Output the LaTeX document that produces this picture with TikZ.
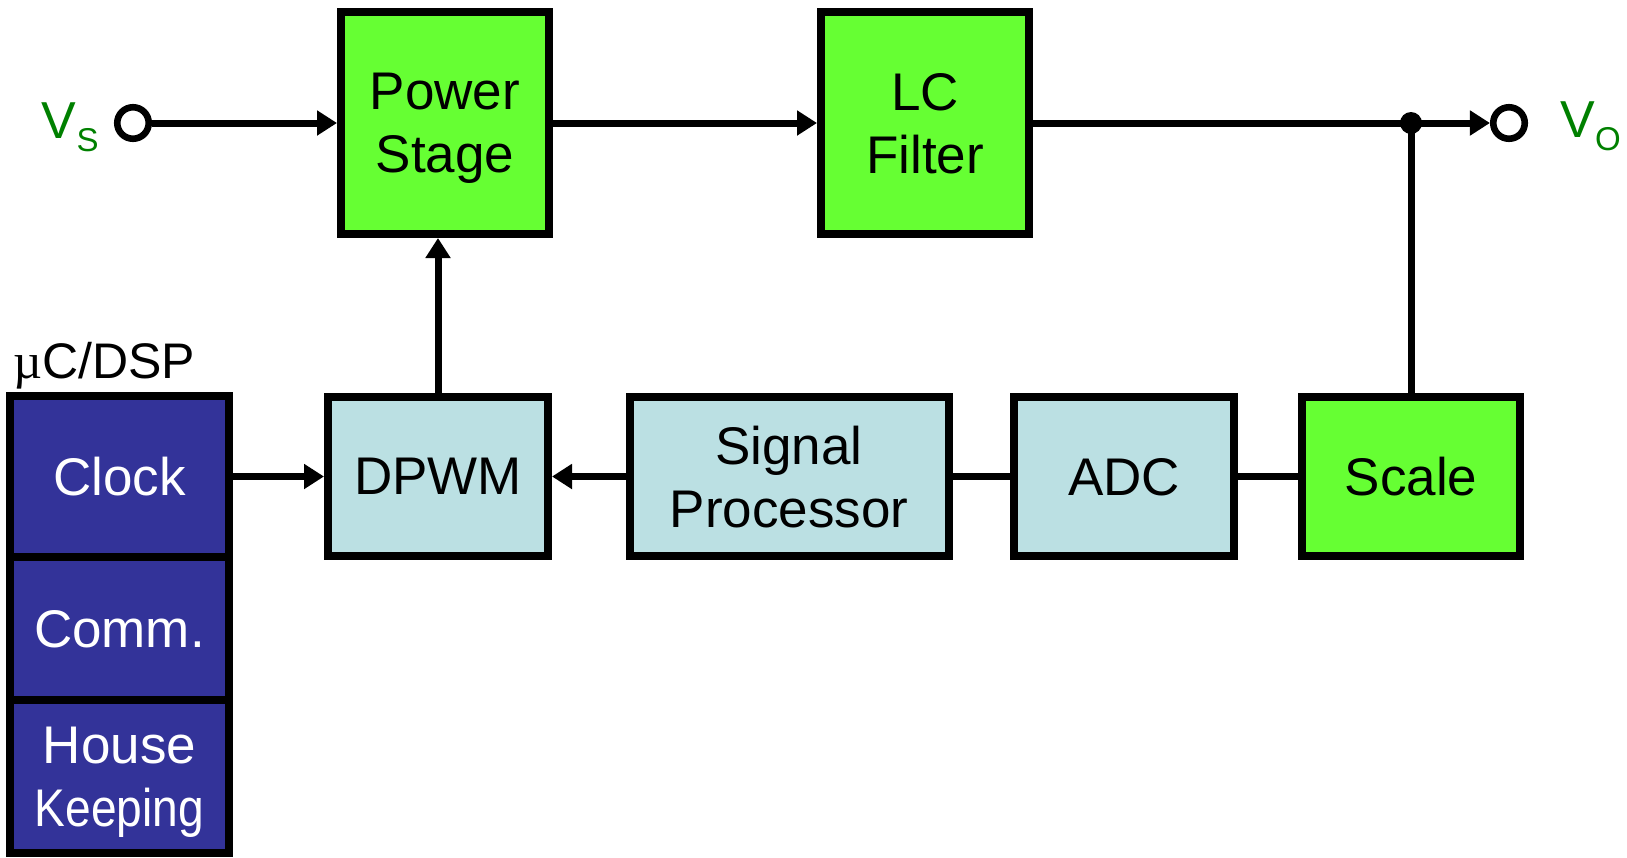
\documentclass[tikz,border=0pt]{standalone}
\usepackage{fontspec}
\setmainfont{Liberation Sans}
\newfontfamily\serifmu{Liberation Serif}
\usetikzlibrary{arrows.meta,positioning}

\definecolor{blockgreen}{RGB}{102,255,51}
\definecolor{blockcyan}{RGB}{187,224,227}
\definecolor{blocknavy}{RGB}{51,51,153}
\definecolor{labelgreen}{RGB}{0,128,0}

\newcommand{\lowsub}[1]{\raisebox{-6.5pt}{\fontsize{16.5}{18}\selectfont #1}}

\tikzset{
  block/.style={draw, line width=4pt, inner sep=0pt, align=center, text depth=0pt,
    font=\fontsize{26.5}{31.5}\selectfont},
  power/.style={block, fill=blockgreen},
  digital/.style={block, fill=blockcyan, minimum height=79.5pt},
  micro/.style={block, fill=blocknavy, text=white, minimum width=109.5pt, outer sep=0pt},
  wire/.style={line width=3.5pt},
  arr/.style={wire, -{Triangle[length=10pt,width=12pt]}},
  terminal/.style={circle, draw, line width=3.3pt, fill=white, inner sep=0pt, minimum size=15.75pt},
  jdot/.style={circle, fill, inner sep=0pt, minimum size=11pt},
  volt/.style={text=labelgreen, font=\fontsize{26}{30}\selectfont, inner sep=0pt}
}

\begin{document}
\begin{tikzpicture}[x=0.5pt, y=-0.5pt, node distance=0pt]
  \useasboundingbox (0,0) rectangle (1627,857);

  % top row
  \node[terminal] (vs) at (133,123) {};
  \node[volt, anchor=base east] (vslabel) at (99,138) {V\lowsub{S}};
  \node[power, minimum width=104pt, minimum height=111pt] (ps) at (445,123) {Power\\Stage};
  \node[power, minimum width=104pt, minimum height=111pt] (lc) at (925,123) {LC\\Filter};
  \node[terminal] (vo) at (1509,123) {};
  \node[volt, anchor=base west] (volabel) at (1560,137) {V\lowsub{O}};

  % feedback row
  \node[digital, minimum width=110pt] (dpwm) at (438,476.5) {DPWM};
  \node[digital, minimum width=159.5pt] (sp) at (789,476.5) {Signal\\Processor};
  \node[digital, minimum width=110.3pt] (adc) at (1124,476.5) {ADC};
  \node[power, minimum width=109pt, minimum height=79.5pt] (scale) at (1411,476.5) {Scale};
  \coordinate (jn) at (scale.north |- ps.east);

  % controller
  \node[micro, minimum height=80.5pt] (clock) at (119.5,476.5) {Clock};
  \node[micro, minimum height=71.5pt] (comm) [below=of clock] {Comm.};
  \node[micro, minimum height=76.5pt] (hk) [below=of comm] {House\\\scalebox{0.87}[1]{Keeping}};
  \node[anchor=base west, inner sep=0pt, font=\fontsize{25}{27}\selectfont] (dsp) at (13,378) {{\serifmu µ}C/DSP};

  \draw[arr] (vs) -- (ps);
  \draw[arr] (ps) -- (lc);
  \draw[wire] (lc) -- (jn);
  \draw[arr] (jn) -- (vo);
  \draw[wire] (scale) -- (jn);
  \node[jdot] (jd) at (jn) {};
  \draw[arr] (dpwm.north) -- (dpwm.north |- ps.south);
  \draw[arr] (clock) -- (dpwm);
  \draw[arr] (sp) -- (dpwm);
  \draw[wire] (sp) -- (adc);
  \draw[wire] (adc) -- (scale);
\end{tikzpicture}
\end{document}
